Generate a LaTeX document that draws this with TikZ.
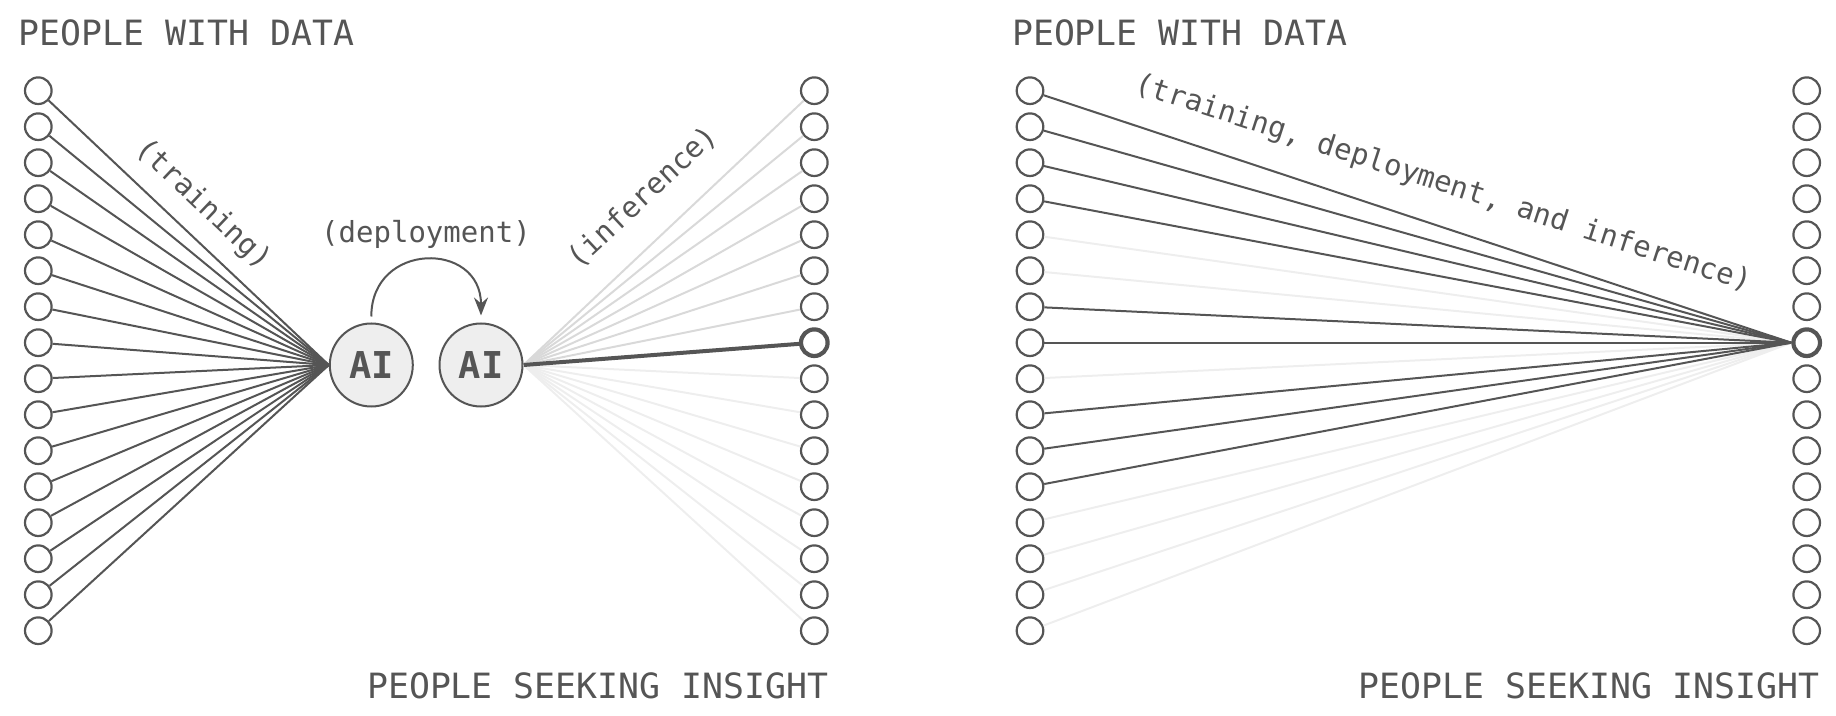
\documentclass[tikz,border=0pt]{standalone}
\usepackage{fontspec}
\setmonofont{DejaVu Sans Mono}
\usetikzlibrary{positioning}
\usetikzlibrary{arrows.meta}
\definecolor{ink}{HTML}{555555}
\definecolor{faint}{HTML}{D9D9D9}
\definecolor{fainter}{HTML}{EEEEEE}

\begin{document}
\begin{tikzpicture}
    [
    x=0.5pt, y=-0.5pt,
    node distance=18pt and 54.85pt,
    on grid,
    every node/.style={font=\ttfamily, text=ink},
    person/.style={draw=ink, circle, line width=1.1pt, minimum size=13.3pt, inner sep=0pt},
    chosen/.style={person, line width=2.1pt},
    ai/.style={draw=ink, circle, fill=fainter, line width=1pt, minimum size=41.5pt, inner sep=0pt, font=\ttfamily\bfseries\fontsize{18.5}{20}\selectfont},
    heading/.style={inner sep=0pt, font=\ttfamily\fontsize{17.4}{20}\selectfont},
    phase/.style={inner sep=0pt, font=\ttfamily\fontsize{14.5}{16}\selectfont},
    link/.style={draw=ink, line width=1pt},
    dim link/.style={draw=faint, line width=1pt},
    dimmer link/.style={draw=fainter, line width=1pt},
    ]
    \useasboundingbox (0,0) rectangle (1836,716);

    \node[heading, anchor=base west] (head_data_l) at (18.4,45.7) {PEOPLE WITH DATA};
    \node[heading, anchor=base east] (head_seek_l) at (828.5,698.3) {PEOPLE SEEKING INSIGHT};
    \node[heading, anchor=base west] (head_data_r) at (1011.7,45.7) {PEOPLE WITH DATA};
    \node[heading, anchor=base east] (head_seek_r) at (1820,698.3) {PEOPLE SEEKING INSIGHT};

    \foreach \i in {0,...,15}{
        \node[person] (data_l\i) at (38.3,90.7+36*\i) {};
        \node[person] (data_r\i) at (1030,90.7+36*\i) {};
        \ifnum\i=7
            \node[chosen] (seek_l\i) at (814.3,90.7+36*\i) {};
            \node[chosen] (seek_r\i) at (1806.7,90.7+36*\i) {};
        \else
            \node[person] (seek_l\i) at (814.3,90.7+36*\i) {};
            \node[person] (seek_r\i) at (1806.7,90.7+36*\i) {};
        \fi
    }

    \node[ai] (ai_train) at (371.3,365) {AI};
    \node[ai, right=of ai_train] (ai_deploy) {AI};

    \foreach \i in {0,...,15}
        \draw[link] (data_l\i) -- (ai_train.west);
    \foreach \i in {0,...,6}
        \draw[dim link] (ai_deploy.east) -- (seek_l\i);
    \foreach \i in {8,...,15}
        \draw[dimmer link] (ai_deploy.east) -- (seek_l\i);
    \draw[link, line width=2pt] (ai_deploy.east) -- (seek_l7);

    \draw[link, -{Stealth[length=9pt, width=7pt, inset=3pt]}]
        ([yshift=3pt]ai_train.north) .. controls +(0,-75) and +(0,-75) .. ([yshift=3.5pt]ai_deploy.north);

    \foreach \i/\s in {4/dimmer link,5/dimmer link,8/dimmer link,12/dimmer link,13/dimmer link,14/dimmer link,15/dimmer link}
        \draw[\s] (data_r\i) -- (seek_r7.west);
    \foreach \i in {0,1,2,3,6,7,9,10,11}
        \draw[link] (data_r\i) -- (seek_r7.west);

    \node[phase, rotate=-43.5] (lbl_training) at (203,205) {(training)};
    \node[phase] (lbl_deployment) at (426,234) {(deployment)};
    \node[phase, rotate=43] (lbl_inference) at (643,197) {(inference)};
    \node[phase, rotate=-18] (lbl_all) at (1443,184) {(training, deployment, and inference)};
\end{tikzpicture}
\end{document}
